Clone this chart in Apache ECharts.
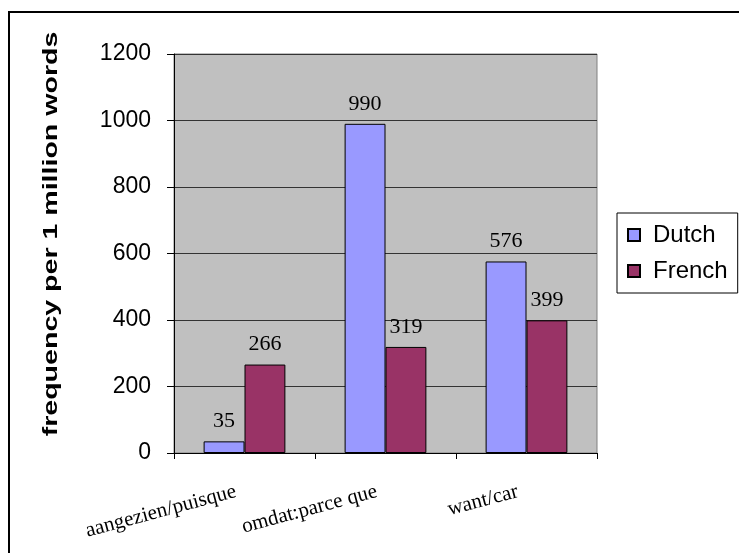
<!DOCTYPE html>
<html>
<head>
<meta charset="utf-8">
<script src="https://cdn.jsdelivr.net/npm/echarts@6/dist/echarts.min.js"></script>
<style>
  html, body { margin: 0; padding: 0; background: #fff; }
  #chart { width: 739px; height: 553px; }
</style>
</head>
<body>
<div id="chart"></div>
<script>
// 数据
const categories = ['aangezien/puisque', 'omdat:parce que', 'want/car']
const dutch = [35, 990, 576]
const french = [266, 319, 399]
const yTicks = [0, 200, 400, 600, 800, 1000, 1200]

const sans = '"Liberation Sans", Arial, sans-serif'
const serif = '"Liberation Serif", "Times New Roman", serif'

const chart = echarts.init(document.getElementById('chart'))

const barLabel = {
  show: true,
  position: 'top',
  distance: 9,
  color: '#000',
  fontFamily: serif,
  fontSize: 22
}

const option = {
  animation: false,
  backgroundColor: '#fff',
  grid: {
    left: 174,
    right: 142,
    top: 54,
    bottom: 100,
    show: true,
    backgroundColor: '#c0c0c0',
    borderColor: '#808080',
    borderWidth: 1
  },
  legend: {
    orient: 'vertical',
    left: 617,
    top: 213,
    padding: [10, 10, 10, 10],
    itemGap: 12,
    itemWidth: 12,
    itemHeight: 12,
    icon: 'rect',
    borderColor: '#000',
    borderWidth: 1,
    backgroundColor: '#fff',
    textStyle: {
      fontFamily: sans,
      fontSize: 24,
      color: '#000',
      padding: [0, 0, 0, 8]
    },
    data: ['Dutch', 'French']
  },
  xAxis: {
    type: 'category',
    data: categories,
    axisLine: { lineStyle: { color: '#000', width: 1 } },
    axisTick: { show: true, length: 6, alignWithLabel: false, lineStyle: { color: '#000' } },
    axisLabel: {
      rotate: 15,
      margin: 36,
      interval: 0,
      padding: [0, 9, 0, 0],
      fontFamily: serif,
      fontSize: 21,
      color: '#000'
    },
    splitLine: { show: false }
  },
  yAxis: {
    type: 'value',
    min: yTicks[0],
    max: yTicks[yTicks.length - 1],
    interval: yTicks[1] - yTicks[0],
    axisLine: { show: true, lineStyle: { color: '#000', width: 1 } },
    axisTick: { show: true, length: 7, lineStyle: { color: '#000' } },
    axisLabel: {
      margin: 23,
      fontFamily: sans,
      fontSize: 23,
      color: '#000',
      formatter: v => String(v)
    },
    splitLine: { show: true, lineStyle: { color: '#333', width: 1 } }
  },
  series: [
    {
      name: 'Dutch',
      type: 'bar',
      data: dutch,
      barGap: '0%',
      barCategoryGap: '42%',
      itemStyle: { color: '#9999ff', borderColor: '#000', borderWidth: 1 },
      label: barLabel
    },
    {
      name: 'French',
      type: 'bar',
      data: french,
      itemStyle: { color: '#993366', borderColor: '#000', borderWidth: 1 },
      label: barLabel
    }
  ],
  graphic: [
    {
      // 外框
      type: 'rect',
      silent: true,
      shape: { x: 9, y: 12, width: 800, height: 600 },
      style: { fill: 'none', stroke: '#000', lineWidth: 2 }
    },
    {
      // y轴标题
      type: 'text',
      x: 51,
      y: 234,
      rotation: Math.PI / 2,
      scaleX: 1.36,
      style: {
        text: 'frequency per 1 million words',
        font: 'bold 21px ' + sans,
        fill: '#000',
        align: 'center',
        verticalAlign: 'middle'
      }
    }
  ]
}

chart.setOption(option)
</script>
</body>
</html>
